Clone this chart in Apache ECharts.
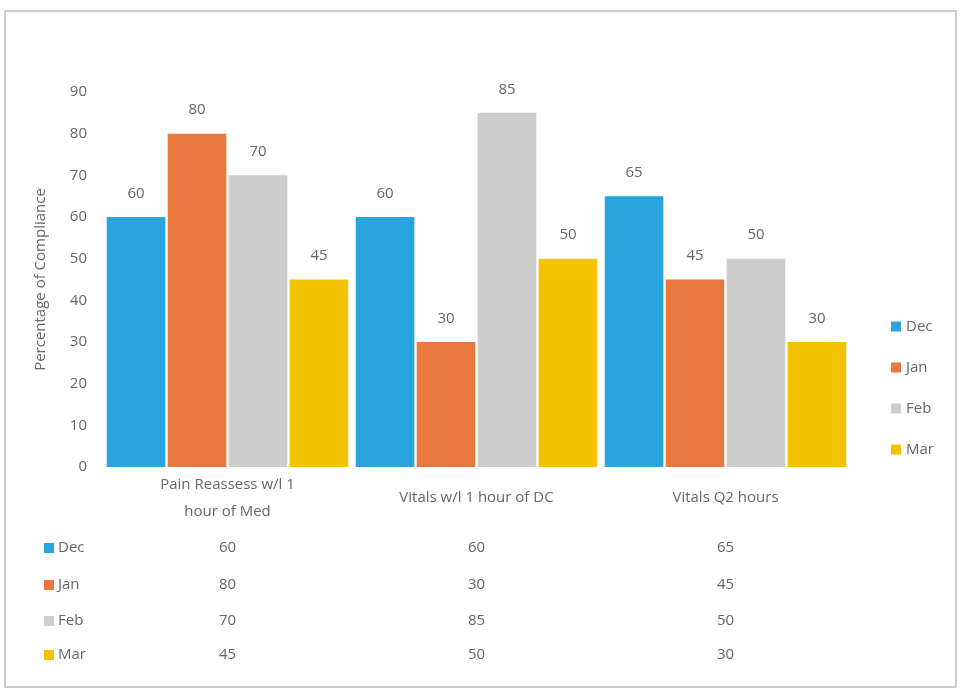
<!DOCTYPE html>
<html>
<head>
<meta charset="utf-8">
<script src="https://cdn.jsdelivr.net/npm/echarts@6/dist/echarts.min.js"></script>
<style>
  html, body { margin: 0; padding: 0; background: #fff; }
  #chart { width: 963px; height: 698px; }
</style>
</head>
<body>
<div id="chart"></div>
<script>
const categories = ['Pain Reassess w/l 1\nhour of Med', 'Vitals w/l 1 hour of DC', 'Vitals Q2 hours']
const months = ['Dec', 'Jan', 'Feb', 'Mar']
const dec = [60, 60, 65]
const jan = [80, 30, 45]
const feb = [70, 85, 50]
const mar = [45, 50, 30]
const colors = ['#29a5de', '#e8783d', '#cdcdcd', '#f4c300']

const font = '"Open Sans", "Liberation Sans", sans-serif'
const textColor = '#666'
const seriesValues = [dec, jan, feb, mar]

const chart = echarts.init(document.getElementById('chart'))

chart.setOption({
  animation: false,
  textStyle: { fontFamily: font },
  grid: { left: 103, right: 113, top: 92, bottom: 231 },
  legend: {
    orient: 'vertical',
    left: 886,
    top: 314,
    itemWidth: 10,
    itemHeight: 10,
    itemGap: 26,
    icon: 'rect',
    textStyle: { color: textColor, fontSize: 15, fontFamily: font },
    data: months
  },
  xAxis: {
    type: 'category',
    data: categories,
    axisLine: { show: false },
    axisTick: { show: false },
    axisLabel: {
      color: textColor,
      fontSize: 15,
      lineHeight: 27,
      verticalAlign: 'middle',
      margin: 31,
      interval: 0
    }
  },
  yAxis: {
    type: 'value',
    min: 0,
    max: 90,
    interval: 10,
    splitLine: { show: false },
    axisLabel: { color: textColor, fontSize: 15, margin: 16 },
    name: 'Percentage of Compliance',
    nameLocation: 'middle',
    nameGap: 55,
    nameTextStyle: { color: textColor, fontSize: 15 }
  },
  series: months.map((m, i) => ({
    name: m,
    type: 'bar',
    data: seriesValues[i],
    barGap: '4%',
    barCategoryGap: '3%',
    itemStyle: { color: colors[i] },
    label: {
      show: true,
      position: 'top',
      distance: 16,
      color: textColor,
      fontSize: 15
    }
  }))
})

// data table under the chart, placed with the category axis scale
const rowY = [548, 585, 621, 655]
const tableItems = []
months.forEach((m, i) => {
  tableItems.push({
    type: 'rect',
    shape: { x: 44, y: rowY[i] - 5, width: 10, height: 10 },
    style: { fill: colors[i] }
  })
  tableItems.push({
    type: 'text',
    x: 58,
    y: rowY[i],
    style: { text: m, fill: textColor, font: '15px ' + font, verticalAlign: 'middle' }
  })
  seriesValues[i].forEach((v, c) => {
    const px = chart.convertToPixel({ xAxisIndex: 0 }, c)
    tableItems.push({
      type: 'text',
      x: px,
      y: rowY[i],
      style: { text: String(v), fill: textColor, font: '15px ' + font, align: 'center', verticalAlign: 'middle' }
    })
  })
})

// outer frame of the chart object
tableItems.push({
  type: 'rect',
  shape: { x: 5, y: 11, width: 951, height: 676 },
  style: { fill: 'none', stroke: '#bdbdbd', lineWidth: 1.5 },
  z: -1
})

chart.setOption({ graphic: { elements: tableItems } })
</script>
</body>
</html>
